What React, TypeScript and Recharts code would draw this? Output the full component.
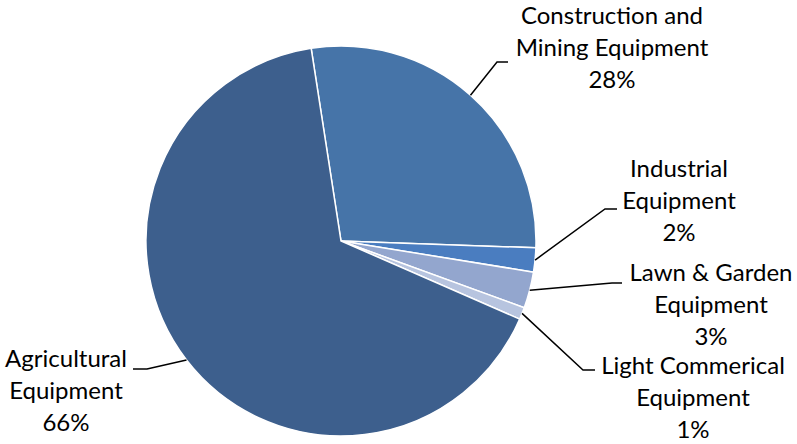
import { PieChart, Pie, Cell } from "recharts";

const names = [
  "Construction and Mining Equipment",
  "Industrial Equipment",
  "Lawn & Garden Equipment",
  "Light Commerical Equipment",
  "Agricultural Equipment",
];
const values = [28, 2, 3, 1, 66];
const labelLines = [
  ["Construction and", "Mining Equipment", "28%"],
  ["Industrial", "Equipment", "2%"],
  ["Lawn & Garden", "Equipment", "3%"],
  ["Light Commerical", "Equipment", "1%"],
  ["Agricultural", "Equipment", "66%"],
];
const colors = ["#4674A8", "#4A7DC0", "#93A6CE", "#B7C4DF", "#3D5F8D"];

// label layout: elbow point, line end, text center x, first baseline
const labelLayout = [
  { elbow: [497, 62], end: [508, 62], tx: 612, ty: 24 },
  { elbow: [605, 209], end: [617, 209], tx: 679, ty: 177 },
  { elbow: [612, 283], end: [622, 283], tx: 711, ty: 281 },
  { elbow: [583, 370], end: [595, 370], tx: 693, ty: 374 },
  { elbow: [147, 369], end: [133, 369], tx: 66, ty: 367 },
];

const data = names.map((name, i) => ({ name, value: values[i] }));

const RAD = Math.PI / 180;

function renderLabel(props: any) {
  const { cx, cy, midAngle, outerRadius, index } = props;
  const sx = cx + outerRadius * Math.cos(-midAngle * RAD);
  const sy = cy + outerRadius * Math.sin(-midAngle * RAD);
  const l = labelLayout[index];
  return (
    <g key={index}>
      <polyline
        points={`${sx},${sy} ${l.elbow[0]},${l.elbow[1]} ${l.end[0]},${l.end[1]}`}
        fill="none"
        stroke="#000"
        strokeWidth={1.5}
      />
      <text
        textAnchor="middle"
        fontFamily="Lato, sans-serif"
        fontSize={24}
        fill="#000"
      >
        {labelLines[index].map((t, j) => (
          <tspan key={j} x={l.tx} y={l.ty + j * 32}>
            {t}
          </tspan>
        ))}
      </text>
    </g>
  );
}

export default function App() {
  return (
    <div style={{ position: "absolute", left: 0, top: 0, background: "#fff" }}>
      <PieChart width={797} height={444} margin={{ top: 0, right: 0, bottom: 0, left: 0 }}>
        <Pie
          data={data}
          dataKey="value"
          nameKey="name"
          cx={341}
          cy={241}
          outerRadius={195}
          startAngle={98.8}
          endAngle={-261.2}
          stroke="#fff"
          strokeWidth={1.5}
          label={renderLabel}
          labelLine={false}
          isAnimationActive={false}
        >
          {data.map((d, i) => (
            <Cell key={d.name} fill={colors[i]} />
          ))}
        </Pie>
      </PieChart>
    </div>
  );
}
